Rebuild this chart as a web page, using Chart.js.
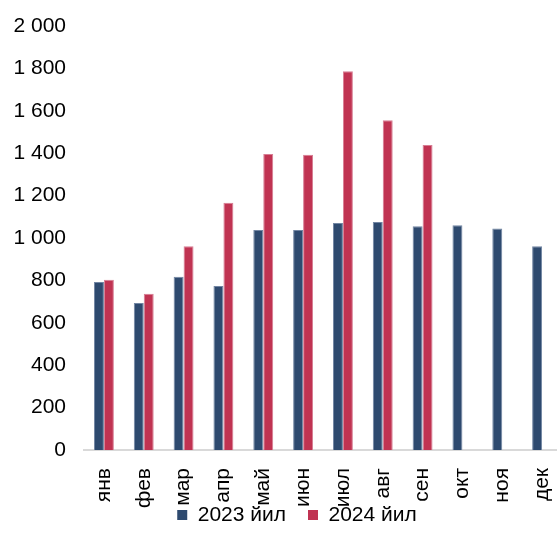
<!DOCTYPE html>
<html><head><meta charset="utf-8">
<script src="https://cdn.jsdelivr.net/npm/chart.js@4"></script>
<style>html,body{margin:0;padding:0;overflow:hidden;background:#fff}#wrap{width:562px;height:550px}</style>
</head><body><div id="wrap"><canvas id="c" width="562" height="550"></canvas></div>
<script>
const categories = ["янв","фев","мар","апр","май","июн","июл","авг","сен","окт","ноя","дек"];
const series2023 = [792,693,817,773,1038,1038,1071,1076,1056,1060,1045,961];
const series2024 = [803,737,961,1166,1396,1393,1787,1556,1439,null,null,null];
const seriesNames = ["2023 йил","2024 йил"];
const yTicks = [0,200,400,600,800,1000,1200,1400,1600,1800,2000];

const font = {family:"'Liberation Sans', Arial, sans-serif", size:21};
const legendPos = {
  id:'legendPos',
  afterLayout(chart){
    const l = chart.legend; if(!l) return;
    const h = l.bottom - l.top;
    l.top = 482.5; l.bottom = l.top + h;
    l.left += 16; l.right += 16;
  }
};
new Chart(document.getElementById('c'), {
  type:'bar',
  data:{labels:categories, datasets:[
    {label:seriesNames[0], data:series2023, backgroundColor:'#2E4A6F', borderColor:'#7286A3', borderWidth:{top:1,left:1,right:1,bottom:0}, categoryPercentage:0.5, barPercentage:1},
    {label:seriesNames[1], data:series2024, backgroundColor:'#C03352', borderColor:'#D77D93', borderWidth:{top:1,left:1,right:1,bottom:0}, categoryPercentage:0.5, barPercentage:1}
  ]},
  plugins:[legendPos],
  options:{
    responsive:false, animation:false,
    layout:{padding:{top:26,right:0,bottom:-11,left:0}},
    plugins:{
      legend:{position:'bottom', labels:{font:font, color:'#000', boxWidth:10, boxHeight:10, padding:22,
        generateLabels:ch=>Chart.defaults.plugins.legend.labels.generateLabels(ch).map(it=>Object.assign(it,{lineWidth:0}))}},
      tooltip:{enabled:false}
    },
    scales:{
      x:{grid:{display:false}, border:{display:true,color:'#d9d9d9',width:2},
         ticks:{font:font, color:'#000', minRotation:90, maxRotation:90, padding:10},
         afterFit:s=>{s.height=58; s.paddingLeft=0; s.paddingRight=0;}},
      y:{min:0,max:2000, grid:{display:false, drawTicks:false}, border:{display:false},
         afterBuildTicks:s=>{s.ticks=yTicks.map(v=>({value:v}));},
         ticks:{font:font, color:'#000', padding:18, callback:v=>String(v).replace(/\B(?=(\d{3})+(?!\d))/g,' ')},
         afterFit:s=>{s.width=84; s.paddingTop=0; s.paddingBottom=0;}}
    }
  }
});
</script></body></html>
